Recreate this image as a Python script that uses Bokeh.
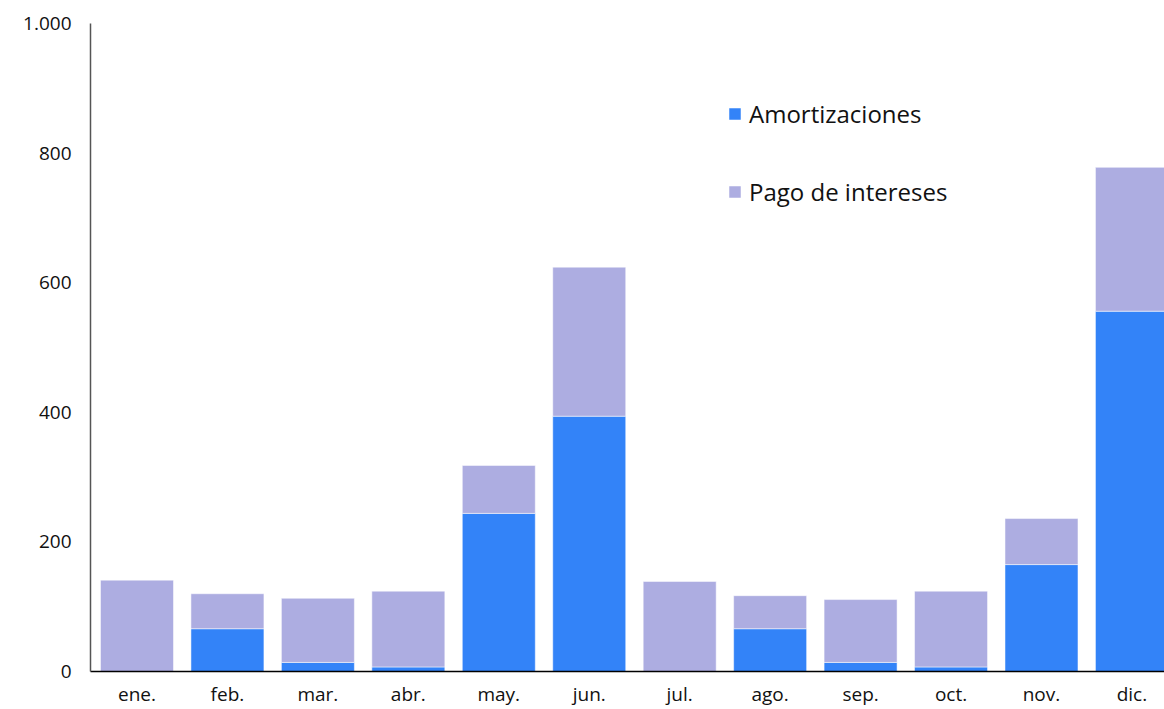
from bokeh.plotting import figure
from bokeh.models import ColumnDataSource, Legend, FixedTicker
from bokeh.embed import file_html
from bokeh.resources import INLINE

months = ["ene.", "feb.", "mar.", "abr.", "may.", "jun.", "jul.", "ago.", "sep.", "oct.", "nov.", "dic."]
amortizaciones = [0, 66, 14, 7, 244, 394, 0, 66, 14, 7, 165, 556]
intereses = [141, 54, 99, 117, 74, 230, 139, 51, 97, 117, 71, 222]
y_ticks = [0, 200, 400, 600, 800, 1000]
y_tick_labels = ["0", "200", "400", "600", "800", "1.000"]

FONT = "Open Sans"

src = ColumnDataSource(dict(x=list(range(len(months))), amort=amortizaciones, inter=intereses))

p = figure(width=1164, height=709, output_backend="svg", toolbar_location=None,
           x_range=(-0.514, 11.36), y_range=(0, 1000),
           min_border_left=90, min_border_right=0, min_border_top=23, min_border_bottom=38)

rs = p.vbar_stack(["amort", "inter"], x="x", width=0.807, source=src,
                  color=["#3383F8", "#ADADE1"], line_color="white", line_alpha=0.5, line_width=1)

p.outline_line_color = None
p.xgrid.visible = False
p.ygrid.visible = False

p.xaxis.ticker = FixedTicker(ticks=list(range(len(months))))
p.xaxis.major_label_overrides = {i: m for i, m in enumerate(months)}
p.xaxis.major_tick_line_color = None
p.xaxis.minor_tick_line_color = None
p.xaxis.axis_line_color = "black"
p.xaxis.axis_line_width = 1.5
p.xaxis.major_label_standoff = 3
p.xaxis.major_label_text_font = FONT
p.xaxis.major_label_text_font_size = "19px"
p.xaxis.major_label_text_color = "#111111"

p.yaxis.ticker = FixedTicker(ticks=y_ticks)
p.yaxis.major_label_overrides = {t: l for t, l in zip(y_ticks, y_tick_labels)}
p.yaxis.major_tick_line_color = None
p.yaxis.minor_tick_line_color = None
p.yaxis.axis_line_color = "#555555"
p.yaxis.axis_line_width = 1.5
p.yaxis.major_label_standoff = 13
p.yaxis.major_label_text_font = FONT
p.yaxis.major_label_text_font_size = "19px"
p.yaxis.major_label_text_color = "#111111"

legend = Legend(items=[("Amortizaciones", [rs[0]]), ("Pago de intereses", [rs[1]])],
                location=(637, 463))
legend.padding = 0
legend.margin = 0
legend.border_line_color = None
legend.background_fill_alpha = 0
legend.glyph_width = 15
legend.glyph_height = 15
legend.label_standoff = 7
legend.spacing = 45
legend.label_text_font = FONT
legend.label_text_font_size = "24px"
legend.label_text_color = "#111111"
p.add_layout(legend, "center")

open("out.html", "w").write(file_html(p, INLINE))
